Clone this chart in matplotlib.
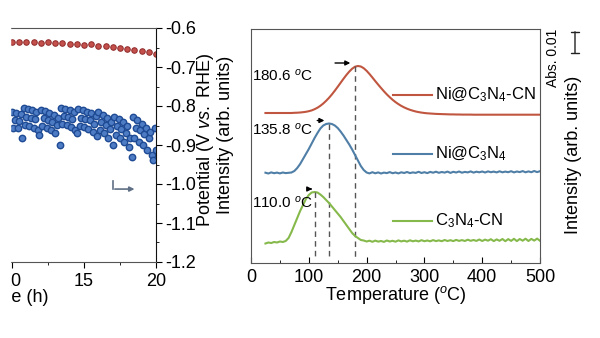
import matplotlib
matplotlib.use("Agg")
import numpy as np
import matplotlib.pyplot as plt
from matplotlib.patches import Rectangle

plt.rcParams["font.family"] = ["Liberation Sans", "DejaVu Sans"]
plt.rcParams["mathtext.fontset"] = "custom"
plt.rcParams["mathtext.rm"] = "Liberation Sans"
plt.rcParams["mathtext.it"] = "Liberation Sans:italic"
plt.rcParams["axes.unicode_minus"] = False

# ---- left panel: stability test (only 10-20 h visible) ----
t_red = [10.0, 10.5, 11.0, 11.5, 12.0, 12.5, 13.0, 13.5, 14.0, 14.5, 15.0,
         15.5, 16.0, 16.5, 17.0, 17.5, 18.0, 18.5, 19.0, 19.5, 20.0]
v_red = [-0.636, -0.635, -0.637, -0.636, -0.638, -0.637, -0.639, -0.638, -0.641, -0.640, -0.643,
         -0.642, -0.646, -0.645, -0.649, -0.650, -0.654, -0.656, -0.659, -0.662, -0.666]

t_blue = [round(10 + 0.1 * i, 1) for i in range(101)]
v_blue = [-0.815, -0.856, -0.836, -0.818, -0.856, -0.838, -0.821, -0.882,             # 10.0-10.7
          -0.805, -0.849, -0.828, -0.808, -0.851, -0.831, -0.810, -0.856, -0.833,
          -0.815, -0.862, -0.874,                                                     # 10.8-11.9
          -0.810, -0.851, -0.831, -0.813, -0.856, -0.836, -0.818, -0.862, -0.841,
          -0.823, -0.869, -0.849, -0.831, -0.900,                                     # 12.0-13.3
          -0.805, -0.846, -0.826, -0.808, -0.849, -0.828, -0.810, -0.854, -0.833,
          -0.815, -0.862, -0.869,                                                     # 13.4-14.5
          -0.808, -0.851, -0.831, -0.810, -0.854, -0.833, -0.815, -0.859, -0.836,
          -0.818, -0.867, -0.846, -0.826, -0.877,                                     # 14.6-15.9
          -0.815, -0.862, -0.841, -0.823, -0.869, -0.849, -0.831, -0.882, -0.859,
          -0.841, -0.900,                                                             # 16.0-17.0
          -0.828, -0.874, -0.851, -0.833, -0.882, -0.859, -0.841, -0.892, -0.869,
          -0.851, -0.905, -0.882, -0.931,                                             # 17.1-18.3
          -0.828, -0.882, -0.856, -0.836, -0.892, -0.862, -0.846, -0.900, -0.872,
          -0.856, -0.913, -0.882, -0.867, -0.926, -0.938,                             # 18.4-19.8
          -0.856, -0.913]                                                             # 19.9-20.0

# ---- right panel: TPD profiles ----
temp = list(range(25, 505, 5))
i_ni_cn = [150, 150, 150, 150, 150, 150, 150, 150, 150, 150, 150.2, 150.3, 150.5, 150.8, 151.2, 151.8,
           152.6, 153.8, 155.3, 157.2, 159.5, 162.2, 165.2, 168.6, 172.3, 176.2, 180.2, 184.2, 188.0,
           191.4, 194.3, 196.3, 197.0, 196.5, 194.8, 192.2, 189.0, 185.5, 181.9, 178.4, 175.0, 171.7,
           168.6, 165.8, 163.2, 160.9, 158.9, 157.1, 155.6, 154.3, 153.2, 152.3, 151.5, 150.9, 150.4,
           150.0, 149.7, 149.5, 149.3, 149.1, 149.0, 148.9, 148.8, 148.7, 148.6, 148.6, 148.5, 148.5,
           148.4, 148.4, 148.4, 148.4, 148.3, 148.3, 148.3, 148.3, 148.3, 148.3, 148.3, 148.3, 148.3,
           148.3, 148.3, 148.3, 148.3, 148.3, 148.3, 148.3, 148.3, 148.3, 148.3, 148.3, 148.3, 148.3,
           148.3, 148.3]
i_ni = [90.3, 89.5, 90.6, 89.8, 90.4, 89.6, 90.5, 89.9, 90.2, 90.5, 92, 95, 99, 104, 109, 114, 119.5,
        125, 130, 134.5, 137.5, 139, 139.5, 139, 137.5, 135, 131.5, 127.5, 123, 118.5, 113.5, 108,
        102.5, 97, 93, 90.5, 89.6, 90.8, 89.7, 90.6, 89.5, 90.4, 89.9, 90.9, 89.8, 90.5, 89.6, 90.7,
        90.0, 91.0, 89.9, 90.6, 90.1, 91.2, 90.0, 90.8, 89.9, 91.1, 90.3, 91.3, 90.2, 91.0, 90.4, 91.4,
        90.1, 91.2, 90.5, 91.5, 90.3, 91.1, 90.6, 91.6, 90.4, 91.3, 90.7, 91.5, 90.5, 91.6, 90.8, 91.4,
        90.6, 91.7, 90.7, 91.4, 90.8, 91.8, 90.6, 91.5, 90.9, 91.9, 90.7, 91.6, 90.8, 92.0, 90.9, 91.8]
i_c3n4 = [19.5, 20.5, 20, 21, 20.5, 21.5, 21, 22, 25, 31, 38, 45, 52, 58, 64, 68, 70.5, 71, 70.5, 68.5,
          66, 63, 60, 56.5, 53, 49.5, 46, 42, 38, 34, 30, 27, 25, 23, 22.5, 21.5, 22.3, 21.2, 22.4,
          21.4, 22.0, 21.1, 22.5, 21.5, 22.2, 21.3, 22.6, 21.6, 22.3, 21.4, 22.7, 21.7, 22.4, 21.6,
          22.8, 21.8, 22.5, 21.7, 22.9, 21.9, 22.6, 21.8, 23.0, 22.0, 22.8, 21.9, 23.1, 22.1, 22.9,
          22.0, 23.3, 22.2, 23.0, 22.1, 23.5, 22.0, 23.4, 22.3, 23.8, 21.9, 23.6, 22.2, 24.0, 21.8,
          23.9, 22.1, 24.2, 21.9, 24.0, 22.3, 24.3, 22.0, 24.1, 22.4, 24.4, 22.2]
names = ["Ni@C$_3$N$_4$-CN", "Ni@C$_3$N$_4$", "C$_3$N$_4$-CN"]
colors = ["#c0563f", "#4f7ea6", "#86b94b"]
peak_t = [180.6, 135.8, 110.0]
peak_i = [197.0, 139.5, 71.0]
legend_i = [168, 109, 42]
label_i = [187, 133, 60]

fig = plt.figure(figsize=(6, 3.38), dpi=100)

# left axes
ax1 = fig.add_axes([10 / 600, 76 / 338, 146 / 600, 234 / 338])
ax1.plot(t_red, v_red, "o", ms=4.0, mfc="#c4504c", mec="#8f2a2a", mew=0.7)
ax1.plot(t_blue, v_blue, "o", ms=4.6, mfc="#4d7cc4", mec="#1f4a94", mew=1.0)
ax1.set_xlim(9.861, 20)
ax1.set_ylim(-1.2, -0.6)
ax1.set_xticks([10, 15, 20])
ax1.set_xticks([12.5, 17.5], minor=True)
ax1.set_yticks([-0.6, -0.7, -0.8, -0.9, -1.0, -1.1, -1.2])
ax1.set_yticks([-0.65, -0.75, -0.85, -0.95, -1.05, -1.15], minor=True)
ax1.yaxis.tick_right()
ax1.spines["left"].set_visible(False)
for s in ["top", "bottom", "right"]:
    ax1.spines[s].set_color("#555555")
ax1.spines["right"].set_color("#111111")
ax1.tick_params(axis="both", which="major", direction="out", length=4, labelsize=13, pad=3)
ax1.tick_params(axis="both", which="minor", direction="out", length=2.5)
ax1.tick_params(axis="x", pad=4)
ax1.plot([17.0, 17.0], [-0.992, -1.013], color="#5f6f85", lw=1.2)
ax1.annotate("", xy=(18.7, -1.013), xytext=(16.95, -1.013),
             arrowprops=dict(arrowstyle="-|>", color="#5f6f85", lw=1.2, mutation_scale=7))

# right axes
ax2 = fig.add_axes([251 / 600, 75 / 338, 289 / 600, 234 / 338])
for k in range(3):
    y = [i_ni_cn, i_ni, i_c3n4][k]
    ax2.plot(temp, y, color=colors[k], lw=1.5)
    ax2.plot([246, 313], [legend_i[k], legend_i[k]], color=colors[k], lw=1.5)
    ax2.text(318, legend_i[k], names[k], fontsize=12, va="center", ha="left")
    ax2.plot([peak_t[k], peak_t[k]], [peak_i[k], 3], ls=(0, (4, 3)), color="#555555", lw=1)
    ax2.annotate("", xy=(peak_t[k] - 4, peak_i[k] + 3), xytext=(peak_t[k] - 40 + 14 * k, peak_i[k] + 3),
                 arrowprops=dict(arrowstyle="-|>", color="black", lw=1, mutation_scale=7))
    ax2.text(2, label_i[k], f"{peak_t[k]:.1f} $^{{o}}$C", fontsize=11, va="center", ha="left")

ax2.set_xlim(0, 500)
ax2.set_ylim(0, 234)
ax2.set_yticks([])
ax2.set_xticks([0, 100, 200, 300, 400, 500])
ax2.set_xticks([50, 150, 250, 350, 450], minor=True)
ax2.tick_params(axis="x", which="major", direction="in", length=4, labelsize=13, pad=4)
ax2.tick_params(axis="x", which="minor", direction="in", length=2.5)
for s in ax2.spines.values():
    s.set_color("#555555")
ax2.set_xlabel("Temperature ($^{o}$C)", fontsize=13, labelpad=-1)

# axis titles placed by pixel position
fig.text(205 / 600, 1 - 140 / 338, r"Potential (V $\it{vs.}$ RHE)", rotation=90,
         fontsize=13, ha="center", va="center")
fig.text(226 / 600, 1 - 135 / 338, "Intensity (arb. units)", rotation=90,
         fontsize=13, ha="center", va="center")
fig.text(574 / 600, 1 - 155 / 338, "Intensity (arb. units)", rotation=90,
         fontsize=13, ha="center", va="center")
fig.text(553 / 600, 1 - 58 / 338, "Abs. 0.01", rotation=90, fontsize=10, ha="center", va="center")
fig.text(48 / 600, 1 - 297 / 338, "Time (h)", fontsize=13, ha="right", va="center")
ax2.annotate("", xy=(575, 338 - 29), xytext=(575, 338 - 56), xycoords="figure pixels",
             textcoords="figure pixels",
             arrowprops=dict(arrowstyle="|-|, widthA=0.3, widthB=0.3", color="#222222", lw=1))

# the source picture is cut off on the left
fig.add_artist(Rectangle((0, 0), 10 / 600, 1, transform=fig.transFigure,
                         color="white", zorder=10))

fig.savefig("out.png", dpi=100)
